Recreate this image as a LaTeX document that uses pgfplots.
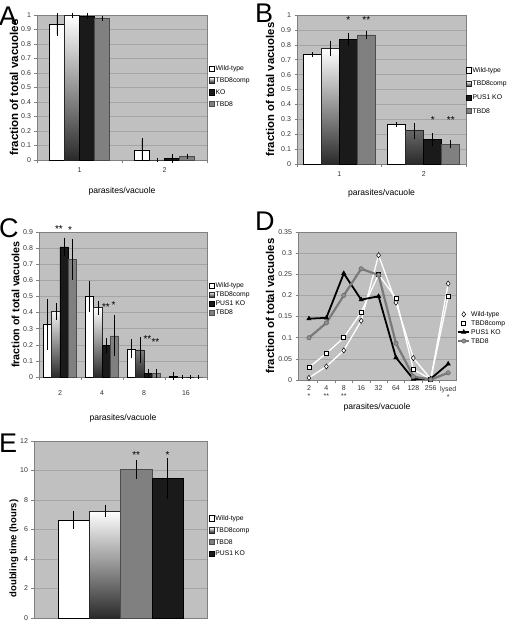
\documentclass[border=0pt]{standalone}
\usepackage{pgfplots}
\pgfplotsset{compat=1.18}
\usepackage{fontspec}
\setmainfont{Liberation Sans}
\definecolor{bggray}{HTML}{C0C0C0}
\definecolor{gridgray}{HTML}{A4A4A4}
\definecolor{framegray}{HTML}{808080}
\definecolor{kocol}{HTML}{1A1A1A}
\definecolor{tbdcol}{HTML}{808080}
\definecolor{compbot}{HTML}{2A2A2A}
\definecolor{ticktext}{HTML}{333333}
\definecolor{tbdline}{HTML}{7A7A7A}
\pgfplotsset{
  panel/.style={
    scale only axis, anchor=south west, clip=false,
    axis background/.style={fill=bggray},
    axis line style={draw=framegray, line width=0.6pt},
    ymajorgrids, grid style={draw=gridgray, line width=0.5pt},
    tick align=outside, major tick length=2.5pt, minor tick length=3pt,
    tick style={draw=framegray, line width=0.5pt},
    ytick pos=left, xtick pos=bottom,
    tick label style={font=\fontsize{7}{8}\selectfont, text=ticktext},
    /pgf/number format/assume math mode=true,
    scaled y ticks=false,
    yticklabel style={/pgf/number format/fixed, /pgf/number format/precision=2},
    legend cell align=left,
    legend style={draw=none, fill=none, anchor=north west, inner sep=0pt,
      font=\fontsize{6.8}{7}\selectfont,
      nodes={inner sep=0.8pt, text height=5.3pt, text depth=1.3pt}},
  },
  ylab/.style 2 args={every axis y label/.style={at={(rel axis cs:0,0.5)}, xshift=-#1, rotate=90, anchor=center, font=\bfseries\fontsize{#2}{#2}\selectfont}},
  xlab/.style={every axis x label/.style={at={(rel axis cs:0.5,0)}, yshift=-#1, anchor=center, font=\fontsize{8.6}{10}\selectfont}},
  barlegend/.style={legend image code/.code={\draw[##1, line width=0.4pt] (0pt,-2.6pt) rectangle (5.2pt,2.6pt);}},
  linelegend/.style={legend image code/.code={\draw[mark repeat=2, mark phase=2, ##1] plot coordinates {(0pt,0pt) (5.5pt,0pt) (11pt,0pt)};}},
  wt/.style={draw=black, fill=white, line width=0.6pt},
  comp/.style={draw=black!85, top color=white, bottom color=compbot, line width=0.6pt},
  ko/.style={draw=black, fill=kocol, line width=0.6pt},
  tbd/.style={draw=black!70, fill=tbdcol, line width=0.6pt},
  eb/.style={error bars/.cd, y dir=both, y explicit, error bar style={black, line width=0.6pt}, error mark options={black, line width=0.6pt, mark size=2pt}},
}
\tikzset{star/.style={font=\fontsize{10}{10}\selectfont, anchor=base, inner sep=0pt, text=black},
  letter/.style={font=\fontsize{27}{27}\selectfont, anchor=base west, inner sep=0pt}}
\begin{document}
\begin{tikzpicture}
\path[use as bounding box] (0pt,0pt) rectangle (512pt,-621pt);
\node[letter] at (-1pt,-25pt) {A};
\node[letter] at (255pt,-22pt) {B};
\node[letter] at (-1pt,-237pt) {C};
\node[letter] at (255pt,-230pt) {D};
\node[letter] at (-1pt,-452pt) {E};

% ---------------- A ----------------
\begin{axis}[panel, at={(37pt,-160pt)}, width=170pt, height=145pt,
  ymin=0, ymax=1, ytick={0,0.1,0.2,0.3,0.4,0.5,0.6,0.7,0.8,0.9,1},
  xmin=0.5, xmax=2.5, xtick={1,2}, minor xtick={0.5,1.5,2.5}, major x tick style={draw=none},
  xticklabel style={yshift=-2pt},
  ybar=0pt, bar width=15pt, barlegend,
  ylab={23pt}{11.5}, ylabel={fraction of total vacuoles},
  xlab=31pt, xlabel={parasites/vacuole},
  legend style={at={(1.012,0.662)}, row sep=3.7pt},
]
\addplot[wt, eb] coordinates {(1,0.935) +- (0,0.065) (2,0.07) +- (0,0.065)};
\addplot[comp, eb] coordinates {(1,0.997) +- (0,0.002) (2,0.0) +- (0,0.0)};
\addplot[ko, eb] coordinates {(1,0.993) +- (0,0.004) (2,0.01) +- (0,0.015)};
\addplot[tbd, eb] coordinates {(1,0.978) +- (0,0.004) (2,0.025) +- (0,0.005)};
\legend{Wild-type, TBD8comp, KO, TBD8}
\end{axis}

% ---------------- B ----------------
\begin{axis}[panel, at={(297pt,-164pt)}, width=169pt, height=149pt,
  ymin=0, ymax=1, ytick={0,0.1,0.2,0.3,0.4,0.5,0.6,0.7,0.8,0.9,1},
  xmin=0.5, xmax=2.5, xtick={1,2}, minor xtick={0.5,1.5,2.5}, major x tick style={draw=none},
  xticklabel style={yshift=-2pt},
  ybar=0pt, bar width=18pt, barlegend,
  ylab={27pt}{11.3}, ylabel={fraction of total vacuoles},
  xlab=29pt, xlabel={parasites/vacuole},
  legend style={at={(1.0,0.658)}, row sep=5.4pt},
]
\addplot[wt, eb] coordinates {(1,0.735) +- (0,0.002) (2,0.265) +- (0,0.002)};
\addplot[comp, eb] coordinates {(1,0.775) +- (0,0.04) (2,0.223) +- (0,0.04)};
\addplot[ko, eb] coordinates {(1,0.835) +- (0,0.028) (2,0.165) +- (0,0.028)};
\addplot[tbd, eb] coordinates {(1,0.867) +- (0,0.015) (2,0.133) +- (0,0.015)};
\legend{Wild-type, TBD8comp, PUS1 KO, TBD8}
\node[star, xshift=9pt] at (axis cs:1,0.942) {*};
\node[star, xshift=27pt] at (axis cs:1,0.942) {**};
\node[star, xshift=9pt] at (axis cs:2,0.27) {*};
\node[star, xshift=27pt] at (axis cs:2,0.27) {**};
\end{axis}

% ---------------- C ----------------
\begin{axis}[panel, at={(39pt,-377pt)}, width=168pt, height=145pt,
  ymin=0, ymax=0.9, ytick={0,0.1,0.2,0.3,0.4,0.5,0.6,0.7,0.8,0.9},
  xmin=0.5, xmax=4.5, xtick={1,2,3,4}, xticklabels={2,4,8,16},
  minor xtick={0.5,1.5,2.5,3.5,4.5}, major x tick style={draw=none},
  xticklabel style={yshift=-8pt},
  ybar=0pt, bar width=8.3pt, barlegend,
  ylab={23.5pt}{10.7}, ylabel={fraction of total vacuoles},
  xlab=41pt, xlabel={parasites/vacuole},
  legend style={at={(1.012,0.662)}, row sep=1pt},
]
\addplot[wt, eb] coordinates {(1,0.325) +- (0,0.145) (2,0.50) +- (0,0.086) (3,0.175) +- (0,0.047) (4,0.006) +- (0,0.01)};
\addplot[comp, eb] coordinates {(1,0.405) +- (0,0.04) (2,0.43) +- (0,0.03) (3,0.168) +- (0,0.068) (4,0.0) +- (0,0.0)};
\addplot[ko, eb] coordinates {(1,0.808) +- (0,0.045) (2,0.195) +- (0,0.035) (3,0.02) +- (0,0.016) (4,0.0) +- (0,0.0)};
\addplot[tbd, eb] coordinates {(1,0.73) +- (0,0.115) (2,0.255) +- (0,0.115) (3,0.022) +- (0,0.017) (4,0.0) +- (0,0.0)};
\legend{Wild-type, TBD8comp, PUS1 KO, TBD8}
\node[star, xshift=-1pt] at (axis cs:1,0.896) {**};
\node[star, xshift=10pt] at (axis cs:1,0.89) {*};
\node[star, xshift=4pt] at (axis cs:2,0.411) {**};
\node[star, xshift=11.5pt] at (axis cs:2,0.428) {*};
\node[star, xshift=3.5pt] at (axis cs:3,0.215) {**};
\node[star, xshift=11.5pt] at (axis cs:3,0.194) {**};
\end{axis}

% ---------------- D ----------------
\begin{axis}[panel, at={(298pt,-380pt)}, width=158pt, height=148pt,
  ymin=0, ymax=0.35, ytick={0,0.05,0.1,0.15,0.2,0.25,0.3,0.35},
  xmin=-0.63, xmax=8.45, xtick={0,1,2,3,4,5,6,7,8},
  xticklabels={{2\\*},{4\\**},{8\\**},16,32,64,128,256,{lysed\\*}},
  xticklabel style={align=center},
  minor xtick={0.5,1.5,2.5,3.5,4.5,5.5,6.5,7.5}, major x tick style={draw=none},
  linelegend,
  ylab={28pt}{11.4}, ylabel={fraction of total vacuoles},
  xlab=27pt, xlabel={parasites/vacuole},
  legend style={at={(1.006,0.473)}, row sep=0.7pt},
]
\addplot[white, line width=1.3pt, mark=diamond*, mark size=2.6pt, mark options={fill=white, draw=black, line width=0.5pt}]
  coordinates {(0,0.005) (1,0.032) (2,0.07) (3,0.14) (4,0.295) (5,0.183) (6,0.052) (7,0.002) (8,0.228)};
\addplot[white, line width=1.3pt, mark=square*, mark size=2pt, mark options={fill=white, draw=black, line width=0.6pt}]
  coordinates {(0,0.03) (1,0.063) (2,0.1) (3,0.16) (4,0.25) (5,0.193) (6,0.025) (7,0.002) (8,0.197)};
\addplot[black, line width=1.8pt, mark=triangle*, mark size=2.6pt, mark options={fill=black, draw=black, line width=0.4pt}]
  coordinates {(0,0.145) (1,0.147) (2,0.252) (3,0.19) (4,0.198) (5,0.053) (6,0.002) (7,0.003) (8,0.038)};
\addplot[tbdline, line width=2.2pt, mark=*, mark size=2.2pt, mark options={fill=tbdcol!90!white, draw=black!60, line width=0.5pt}]
  coordinates {(0,0.1) (1,0.135) (2,0.2) (3,0.263) (4,0.248) (5,0.087) (6,0.008) (7,0.001) (8,0.017)};
\legend{Wild-type, TBD8comp, PUS1 KO, TBD8}
\end{axis}

% ---------------- E ----------------
\begin{axis}[panel, at={(34pt,-618pt)}, width=173pt, height=177pt,
  ymin=0, ymax=12, ytick={0,2,4,6,8,10,12},
  xmin=0.5, xmax=1.5, xtick=\empty,
  ybar=0pt, bar width=31.3pt, barlegend,
  every axis y label/.style={at={(rel axis cs:0,0.393)}, xshift=-20pt, rotate=90, anchor=center, font=\bfseries\fontsize{9.5}{9.5}\selectfont},
  ylabel={doubling time (hours)},
  legend style={at={(1.01,0.588)}, row sep=3.7pt},
]
\addplot[wt, eb] coordinates {(1,6.65) +- (0,0.45)};
\addplot[comp, eb] coordinates {(1,7.25) +- (0,0.3)};
\addplot[tbd, eb] coordinates {(1,10.05) +- (0,0.5)};
\addplot[ko, eb] coordinates {(1,9.45) +- (0,1.25)};
\legend{Wild-type, TBD8comp, TBD8, PUS1 KO}
\node[star, xshift=15.65pt] at (axis cs:1,10.8) {**};
\node[star, xshift=46.95pt] at (axis cs:1,10.8) {*};
\end{axis}
\end{tikzpicture}
\end{document}
